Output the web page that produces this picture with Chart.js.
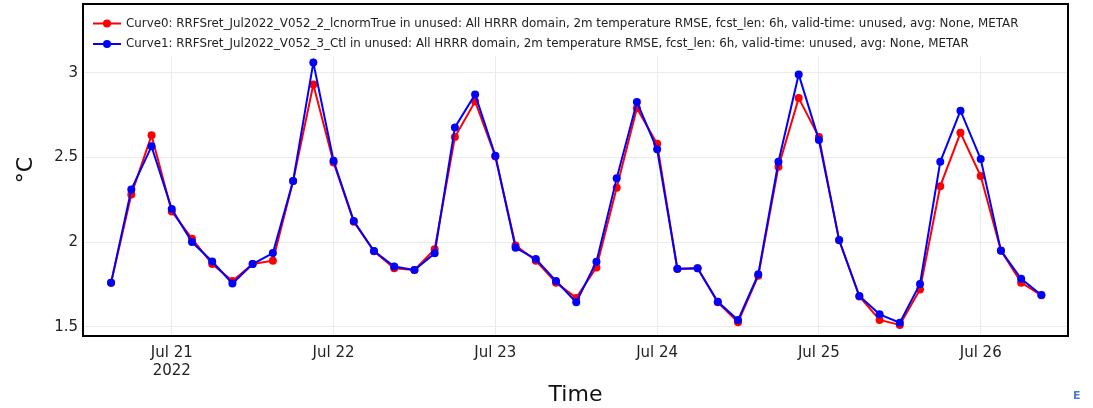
<!DOCTYPE html>
<html><head><meta charset="utf-8">
<script src="https://cdn.jsdelivr.net/npm/chart.js@4/dist/chart.umd.min.js"></script>
<style>html,body{margin:0;padding:0;background:#fff;}#wrap{width:1093px;height:408px;position:relative;}</style>
</head><body><div id="wrap"><canvas id="c" width="1093" height="408"></canvas></div>
<script>
// ---- data ----
const times = [
  "2022-07-20 15:00","2022-07-20 18:00","2022-07-20 21:00",
  "2022-07-21 00:00","2022-07-21 03:00","2022-07-21 06:00","2022-07-21 09:00","2022-07-21 12:00","2022-07-21 15:00","2022-07-21 18:00","2022-07-21 21:00",
  "2022-07-22 00:00","2022-07-22 03:00","2022-07-22 06:00","2022-07-22 09:00","2022-07-22 12:00","2022-07-22 15:00","2022-07-22 18:00","2022-07-22 21:00",
  "2022-07-23 00:00","2022-07-23 03:00","2022-07-23 06:00","2022-07-23 09:00","2022-07-23 12:00","2022-07-23 15:00","2022-07-23 18:00","2022-07-23 21:00",
  "2022-07-24 00:00","2022-07-24 03:00","2022-07-24 06:00","2022-07-24 09:00","2022-07-24 12:00","2022-07-24 15:00","2022-07-24 18:00","2022-07-24 21:00",
  "2022-07-25 00:00","2022-07-25 03:00","2022-07-25 06:00","2022-07-25 09:00","2022-07-25 12:00","2022-07-25 15:00","2022-07-25 18:00","2022-07-25 21:00",
  "2022-07-26 00:00","2022-07-26 03:00","2022-07-26 06:00","2022-07-26 09:00"
];
const curve0Label = "Curve0: RRFSret_Jul2022_V052_2_lcnormTrue in unused: All HRRR domain, 2m temperature RMSE, fcst_len: 6h, valid-time: unused, avg: None, METAR";
const curve1Label = "Curve1: RRFSret_Jul2022_V052_3_Ctl in unused: All HRRR domain, 2m temperature RMSE, fcst_len: 6h, valid-time: unused, avg: None, METAR";
const curve0 = [1.76,2.28,2.63,2.18,2.02,1.87,1.77,1.87,1.89,2.36,2.93,2.47,2.12,1.945,1.845,1.835,1.957,2.62,2.83,2.505,1.98,1.89,1.76,1.67,1.85,2.32,2.79,2.58,1.84,1.845,1.644,1.526,1.80,2.445,2.85,2.62,2.01,1.678,1.54,1.51,1.72,2.33,2.645,2.39,1.95,1.76,1.685];
const curve1 = [1.76,2.31,2.565,2.195,2.00,1.885,1.755,1.87,1.935,2.36,3.06,2.48,2.124,1.947,1.855,1.835,1.933,2.677,2.872,2.51,1.966,1.90,1.77,1.644,1.884,2.376,2.827,2.548,1.842,1.845,1.647,1.539,1.809,2.474,2.99,2.602,2.012,1.681,1.573,1.523,1.752,2.474,2.776,2.49,1.949,1.783,1.687];
const xTickDays = ["2022-07-21","2022-07-22","2022-07-23","2022-07-24","2022-07-25","2022-07-26"];
const xTickLabels = [["Jul 21","2022"],"Jul 22","Jul 23","Jul 24","Jul 25","Jul 26"];
const yTicks = [1.5, 2, 2.5, 3];
const xRange = ["2022-07-20 10:50","2022-07-26 12:57"];
const yRange = [1.4448, 3.406];
const yTitle = "°C";
const xTitle = "Time";

// ---- helpers ----
function toMs(s){const p=s.split(' ');const d=p[0].split('-').map(Number);const t=(p[1]||'00:00').split(':').map(Number);return Date.UTC(d[0],d[1]-1,d[2],t[0],t[1]);}
const FONT = "'DejaVu Sans', Verdana, sans-serif";

const overlay = {
  id:'overlay',
  afterDraw(chart){
    const ctx=chart.ctx, ca=chart.chartArea;
    ctx.save();
    // legend
    ctx.fillStyle='#fff';
    ctx.fillRect(ca.left, ca.top, ca.right-ca.left, 52);
    const rows=[{c:'#ff0000',t:curve0Label,y:23.5},{c:'#0000ff',t:curve1Label,y:44}];
    ctx.font='12px '+FONT;
    const w=ctx.measureText(curve0Label).width;
    const fs=12*893/w;
    rows.forEach(r=>{
      ctx.strokeStyle=r.c; ctx.lineWidth=2;
      ctx.beginPath(); ctx.moveTo(93,r.y); ctx.lineTo(121,r.y); ctx.stroke();
      ctx.fillStyle=r.c; ctx.beginPath(); ctx.arc(107,r.y,4,0,Math.PI*2); ctx.fill();
      ctx.fillStyle='#222'; ctx.font=fs.toFixed(2)+'px '+FONT;
      ctx.textAlign='left'; ctx.textBaseline='middle';
      ctx.fillText(r.t,126,r.y);
    });
    // frame
    ctx.strokeStyle='#000'; ctx.lineWidth=2;
    ctx.strokeRect(ca.left, ca.top, ca.right-ca.left, ca.bottom-ca.top);
    // axis titles
    ctx.fillStyle='#111'; ctx.font='22px '+FONT; ctx.textAlign='center'; ctx.textBaseline='middle';
    ctx.fillText(xTitle,(ca.left+ca.right)/2,395);
    ctx.save(); ctx.translate(26,(ca.top+ca.bottom)/2); ctx.rotate(-Math.PI/2); ctx.fillText(yTitle,0,0); ctx.restore();
    // cut-off corner mark
    ctx.fillStyle='#4a7bd6'; ctx.font='bold 11px '+FONT; ctx.textAlign='left';
    ctx.fillText('E',1073,396);
    ctx.restore();
  }
};

new Chart(document.getElementById('c'),{
  type:'line',
  data:{datasets:[
    {label:curve0Label,data:times.map((t,i)=>({x:toMs(t),y:curve0[i]})),borderColor:'#ff0000',backgroundColor:'#ff0000',pointBackgroundColor:'#ff0000',pointBorderColor:'#ff0000',borderWidth:2,pointRadius:4,pointBorderWidth:0,order:1,tension:0},
    {label:curve1Label,data:times.map((t,i)=>({x:toMs(t),y:curve1[i]})),borderColor:'#0000ff',backgroundColor:'#0000ff',pointBackgroundColor:'#0000ff',pointBorderColor:'#0000ff',borderWidth:2,pointRadius:4,pointBorderWidth:0,order:0,tension:0}
  ]},
  options:{
    responsive:false,animation:false,devicePixelRatio:1,
    layout:{padding:{top:4,right:25,left:0,bottom:0}},
    plugins:{legend:{display:false},tooltip:{enabled:false}},
    scales:{
      x:{type:'linear',min:toMs(xRange[0]),max:toMs(xRange[1]),
        afterBuildTicks(s){s.ticks=xTickDays.map(d=>({value:toMs(d)}));},
        afterFit(s){s.height=72;s.paddingLeft=0;s.paddingRight=0;},
        border:{display:false},
        grid:{color:'#ebebeb',drawTicks:false},
        ticks:{autoSkip:false,maxRotation:0,padding:8,color:'#222',font:{family:FONT,size:15},
          callback(v,i){return xTickLabels[i];}}
      },
      y:{type:'linear',min:yRange[0],max:yRange[1],
        afterBuildTicks(s){s.ticks=yTicks.map(v=>({value:v}));},
        afterFit(s){s.width=83;s.paddingTop=0;s.paddingBottom=0;},
        border:{display:false},
        grid:{color:'#ebebeb',drawTicks:false},
        ticks:{padding:5,color:'#222',font:{family:FONT,size:15},callback(v){return String(v);}}
      }
    }
  },
  plugins:[overlay]
});
</script></body></html>
